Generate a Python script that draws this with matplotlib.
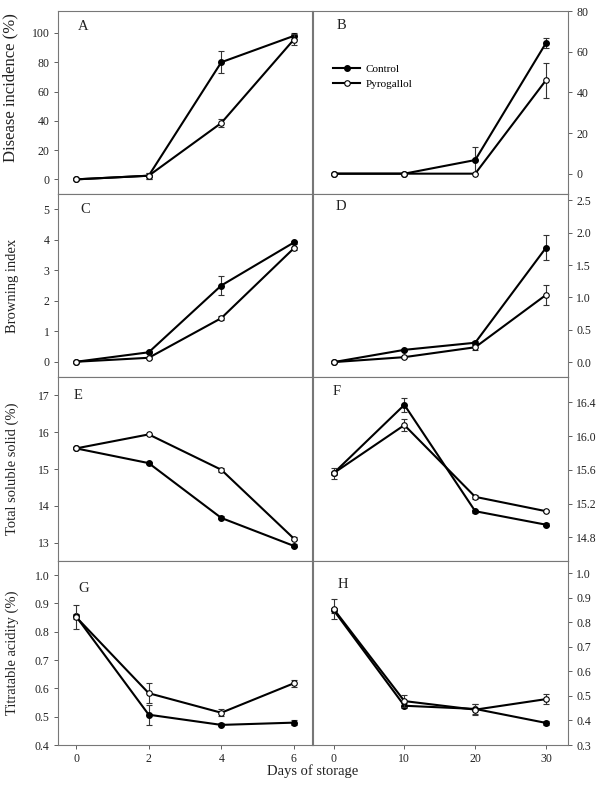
import numpy as np
import matplotlib
matplotlib.use("Agg")
import matplotlib.pyplot as plt
from matplotlib.lines import Line2D

plt.rcParams["font.family"] = ["Liberation Serif", "DejaVu Serif"]

# Days of storage
days_left = [0, 2, 4, 6]
days_right = [0, 10, 20, 30]

# A / B  disease incidence (%)
a_ctrl = [0, 2.5, 80, 98]
a_ctrl_err = [0, 2, 7.5, 2]
a_pyro = [0, 2.5, 38.5, 95.5]
a_pyro_err = [0, 2, 2.5, 3.5]
b_ctrl = [0, 0, 6.7, 64.3]
b_ctrl_err = [0, 0, 6.6, 2.3]
b_pyro = [0, 0, 0, 46]
b_pyro_err = [0, 0, 0, 8.6]

# C / D  browning index
c_ctrl = [0, 0.31, 2.5, 3.91]
c_ctrl_err = [0, 0.03, 0.3, 0.05]
c_pyro = [0, 0.13, 1.43, 3.72]
c_pyro_err = [0, 0.03, 0.06, 0.05]
d_ctrl = [0, 0.19, 0.3, 1.77]
d_ctrl_err = [0, 0.02, 0.03, 0.19]
d_pyro = [0, 0.077, 0.23, 1.04]
d_pyro_err = [0, 0.02, 0.04, 0.16]

# E / F  total soluble solid (%)
e_ctrl = [15.56, 15.16, 13.67, 12.91]
e_ctrl_err = [0.02, 0.03, 0.04, 0.04]
e_pyro = [15.56, 15.94, 14.98, 13.11]
e_pyro_err = [0.02, 0.02, 0.06, 0.03]
f_ctrl = [15.56, 16.37, 15.11, 14.95]
f_ctrl_err = [0.02, 0.08, 0.02, 0.02]
f_pyro = [15.56, 16.13, 15.28, 15.11]
f_pyro_err = [0.065, 0.07, 0.02, 0.01]

# G / H  titratable acidity (%)
g_ctrl = [0.854, 0.507, 0.471, 0.479]
g_ctrl_err = [0.01, 0.035, 0.005, 0.01]
g_pyro = [0.852, 0.583, 0.514, 0.618]
g_pyro_err = [0.042, 0.035, 0.012, 0.012]
h_ctrl = [0.85, 0.46, 0.447, 0.39]
h_ctrl_err = [0.01, 0.01, 0.02, 0.008]
h_pyro = [0.855, 0.479, 0.444, 0.487]
h_pyro_err = [0.042, 0.025, 0.022, 0.02]

panels = [
    ("A", days_left, a_ctrl, a_ctrl_err, a_pyro, a_pyro_err, (-10, 115), np.arange(0, 101, 20), "%d"),
    ("B", days_right, b_ctrl, b_ctrl_err, b_pyro, b_pyro_err, (-10, 80), np.arange(0, 81, 20), "%d"),
    ("C", days_left, c_ctrl, c_ctrl_err, c_pyro, c_pyro_err, (-0.5, 5.5), np.arange(0, 6, 1), "%d"),
    ("D", days_right, d_ctrl, d_ctrl_err, d_pyro, d_pyro_err, (-0.23, 2.6), np.arange(0, 2.6, 0.5), "%.1f"),
    ("E", days_left, e_ctrl, e_ctrl_err, e_pyro, e_pyro_err, (12.5, 17.5), np.arange(13, 18, 1), "%d"),
    ("F", days_right, f_ctrl, f_ctrl_err, f_pyro, f_pyro_err, (14.52, 16.7), [14.8, 15.2, 15.6, 16.0, 16.4], "%.1f"),
    ("G", days_left, g_ctrl, g_ctrl_err, g_pyro, g_pyro_err, (0.4, 1.05), np.arange(0.4, 1.01, 0.1), "%.1f"),
    ("H", days_right, h_ctrl, h_ctrl_err, h_pyro, h_pyro_err, (0.3, 1.05), np.arange(0.3, 1.01, 0.1), "%.1f"),
]
ylabels = ["Disease incidence (%)", "Browning index", "Total soluble solid (%)", "Titratable acidity (%)"]
ylabel_sizes = [12, 10.5, 10.5, 10.5]
ylabel_y = [0.58, 0.5, 0.5, 0.5]
letter_pos = [(0.079, 0.918), (0.094, 0.92), (0.087, 0.918), (0.09, 0.93),
              (0.06, 0.90), (0.078, 0.92), (0.079, 0.853), (0.098, 0.87)]

fig = plt.figure(figsize=(6, 7.86), dpi=100)
W, H = 600, 786
col_x = [(58, 312), (313, 568)]
row_y = [(11, 194), (194, 377), (377, 561), (561, 745)]

for i, (letter, x, yc, ec, yp, ep, ylim, yticks, fmt) in enumerate(panels):
    r, c = divmod(i, 2)
    x0, x1 = col_x[c]
    y0, y1 = row_y[r]
    ax = fig.add_axes([x0 / W, 1 - y1 / H, (x1 - x0) / W, (y1 - y0) / H])

    ax.errorbar(x, yc, yerr=ec, color="black", lw=1.5, marker="o", ms=4,
                mfc="black", mec="black", ecolor="#333", elinewidth=0.8,
                capsize=2.5, capthick=0.8, zorder=2)
    ax.errorbar(x, yp, yerr=ep, color="black", lw=1.5, marker="o", ms=4,
                mfc="white", mec="black", mew=0.8, ecolor="#333", elinewidth=0.8,
                capsize=2.5, capthick=0.8, zorder=3)

    ax.set_ylim(*ylim)
    ax.set_yticks(yticks)
    ax.set_yticklabels([fmt % v for v in yticks])
    if c == 0:
        ax.set_xlim(-0.5, 6.5)
    else:
        ax.set_xlim(-2.9, 33.1)
        ax.yaxis.tick_right()

    if r == 3:
        ax.set_xticks(x)
        ax.set_xticklabels([str(v) for v in x])
    else:
        ax.set_xticks([])

    ax.tick_params(axis="both", direction="out", length=3, width=0.6,
                   labelsize=8.5, colors="#444", labelcolor="#222", pad=3)
    for s in ax.spines.values():
        s.set_color("#777")
        s.set_linewidth(0.8)

    ax.text(letter_pos[i][0], letter_pos[i][1], letter, transform=ax.transAxes,
            fontsize=10.5, ha="left", va="center", color="#222")

    if c == 0:
        ax.set_ylabel(ylabels[r], fontsize=ylabel_sizes[r], color="#222")
        ax.yaxis.set_label_coords(-0.155, ylabel_y[r])

    if letter == "B":
        handles = [
            Line2D([], [], color="black", lw=1.5, marker="o", ms=4, mfc="black", mec="black"),
            Line2D([], [], color="black", lw=1.5, marker="o", ms=4, mfc="white", mec="black", mew=0.8),
        ]
        ax.legend(handles, ["Control", "Pyrogallol"], loc="upper left",
                  bbox_to_anchor=(0.08, 0.71), frameon=False, fontsize=8,
                  handlelength=2.4, handletextpad=0.5, labelspacing=0.45,
                  borderaxespad=0, borderpad=0)

fig.text(313 / W, 1 - 771 / H, "Days of storage", ha="center", va="center",
         fontsize=10.5, color="#222")

plt.savefig("out.png", dpi=100)
